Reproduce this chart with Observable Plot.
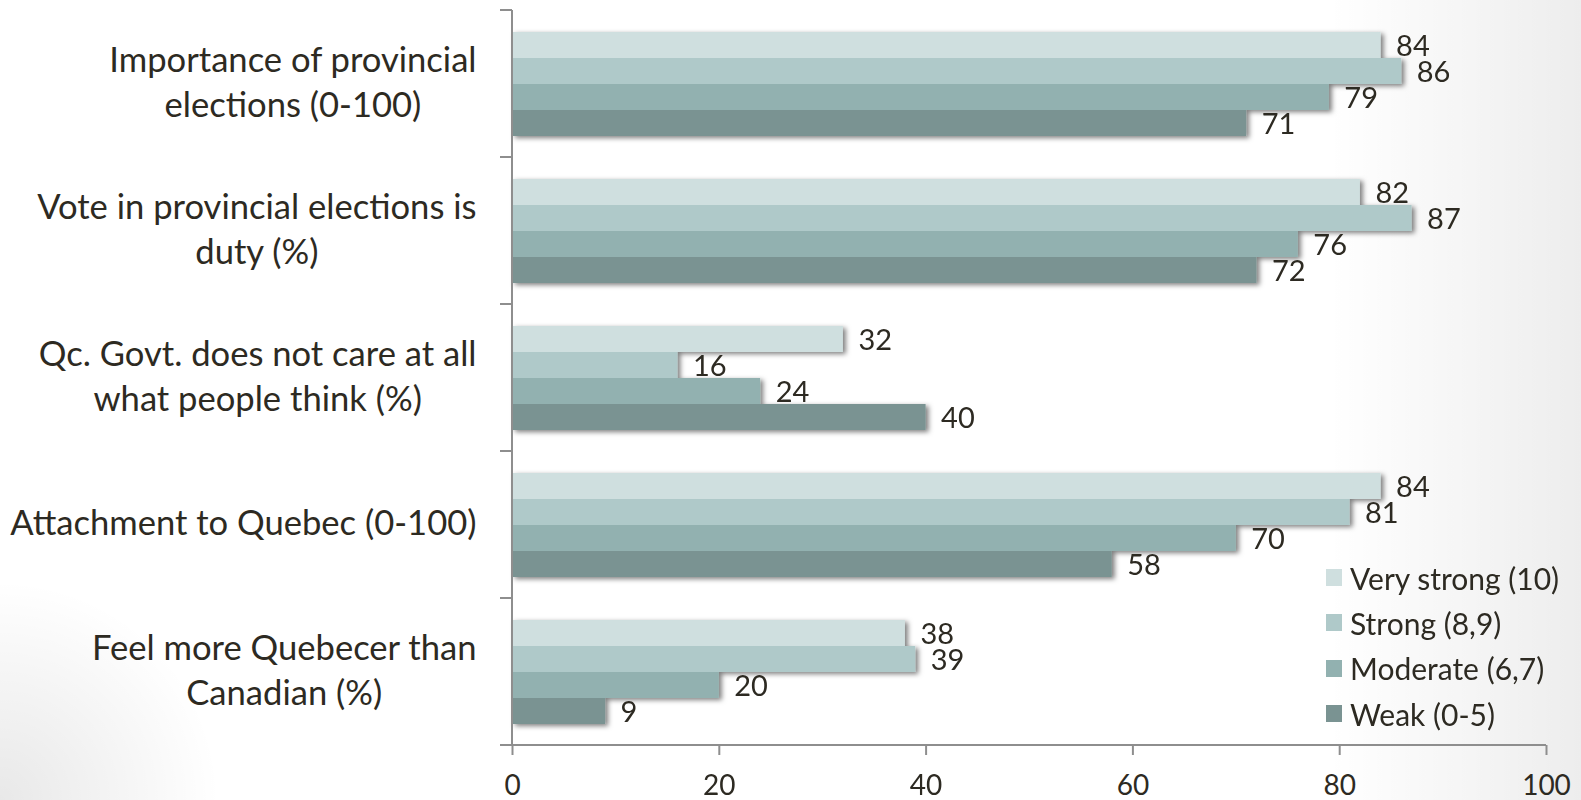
<!DOCTYPE html>
<html>
<head>
<meta charset="utf-8">
<script src="https://cdn.jsdelivr.net/npm/d3@7"></script>
<script src="https://cdn.jsdelivr.net/npm/@observablehq/plot@0.6"></script>
<style>
  html, body { margin: 0; padding: 0; }
  body {
    width: 1581px; height: 800px; overflow: hidden;
    background:
      radial-gradient(circle at 0% 100%, rgba(0,0,0,0.09) 0, rgba(0,0,0,0) 220px),
      linear-gradient(to right, rgba(0,0,0,0) 84%, rgba(0,0,0,0.07) 100%),
      #ffffff;
    font-family: Lato, "Open Sans", sans-serif;
    color: #2d2a22;
  }
  #chart { position: relative; width: 1581px; height: 800px; }
  #chart svg { position: absolute; left: 0; top: 0; overflow: visible; }
  #legend { position: absolute; left: 1326px; top: 555px; font-size: 30px; }
  #legend .row { display: flex; align-items: center; height: 45.3px; }
  #legend .sw { width: 16px; height: 17px; margin-right: 8px; flex: none; }
</style>
</head>
<body>
<div id="chart"></div>
<script>
// Survey items (one group of bars each)
const categories = [
  "Importance of provincial\nelections (0-100)",
  "Vote in provincial elections is\nduty (%)",
  "Qc. Govt. does not care at all\nwhat people think (%)",
  "Attachment to Quebec (0-100)",
  "Feel more Quebecer than\nCanadian (%)"
];

// Strength of partisan identification
const series = ["Very strong (10)", "Strong (8,9)", "Moderate (6,7)", "Weak (0-5)"];

const veryStrong = [84, 82, 32, 84, 38];
const strong     = [86, 87, 16, 81, 39];
const moderate   = [79, 76, 24, 70, 20];
const weak       = [71, 72, 40, 58, 9];

const xTicks = [0, 20, 40, 60, 80, 100];
const colors = ["#cfdfdf", "#afc9c9", "#92b1b0", "#7a9392"];

const seriesValues = [veryStrong, strong, moderate, weak];
const rows = categories.flatMap((category, i) =>
  series.map((s, j) => ({category, series: s, value: seriesValues[j][i]}))
);

const textColor = "#2d2a22";
const axisColor = "#8e8e8e";

const plot = Plot.plot({
  width: 1581,
  height: 800,
  marginLeft: 512,
  marginRight: 35,
  marginTop: 8,
  marginBottom: 54,
  style: {background: "transparent", fontFamily: "Lato, 'Open Sans', sans-serif", color: textColor, overflow: "visible"},
  x: {domain: [0, 100]},
  fy: {domain: categories, padding: 0, axis: null, label: null},
  y: {domain: series, paddingInner: 0, paddingOuter: 0.76, axis: null},
  color: {domain: series, range: colors},
  marks: [
    Plot.barX(rows, {fy: "category", y: "series", x: "value", fill: "series"}),
    Plot.text(rows, {
      fy: "category", y: "series", x: "value",
      text: d => String(d.value),
      textAnchor: "start", dx: 15, dy: 1,
      fontSize: 29, fill: textColor
    }),
    Plot.text(categories, {
      fy: d => d, text: d => d,
      frameAnchor: "left", dx: -36, dy: -4, textAnchor: "middle",
      fontSize: 34.6, lineHeight: 1.3, fill: textColor
    }),
    Plot.axisX({
      ticks: xTicks, tickSize: 10, tickPadding: 20,
      fontSize: 28, label: null, stroke: axisColor, strokeWidth: 2, fill: textColor
    })
  ]
});

const chart = document.getElementById("chart");
chart.appendChild(plot);

const svg = d3.select(plot);
const x = plot.scale("x");
const fy = plot.scale("fy");
const x0 = x.apply(0);
const x1 = x.apply(100);
const bw = fy.bandwidth;
const tops = categories.map(c => fy.apply(c));
const bottom = tops[tops.length - 1] + bw;

// Soft drop shadow under the bars
const defs = svg.insert("defs", ":first-child");
defs.append("filter")
  .attr("id", "barShadow")
  .attr("x", "-5%").attr("y", "-30%").attr("width", "110%").attr("height", "160%")
  .append("feDropShadow")
  .attr("dx", 3).attr("dy", 2).attr("stdDeviation", 2.5)
  .attr("flood-color", "#000").attr("flood-opacity", 0.5);
svg.selectAll('g[aria-label="bar"]').attr("filter", "url(#barShadow)");

// Category axis: vertical line, boundary ticks and the x-axis baseline
const axes = svg.append("g").attr("stroke", axisColor).attr("stroke-width", 2).attr("fill", "none");
axes.append("line").attr("x1", x0).attr("x2", x0).attr("y1", tops[0]).attr("y2", bottom);
tops.forEach(t => axes.append("line").attr("x1", x0 - 12).attr("x2", x0).attr("y1", t).attr("y2", t));
axes.append("line").attr("x1", x0 - 12).attr("x2", x1).attr("y1", bottom).attr("y2", bottom);

// Center each multi-line category label on its longest line, right edge 36px from the axis
const flat = categories.map(c => c.replace("\n", ""));
svg.selectAll("text").each(function () {
  if (!flat.includes(this.textContent)) return;
  const w = this.getBBox().width;
  const spans = this.querySelectorAll("tspan");
  if (spans.length) spans.forEach(s => s.setAttribute("x", -w / 2));
  else this.setAttribute("x", -w / 2);
});

// Legend
const legend = d3.select(chart).append("div").attr("id", "legend");
series.forEach((s, i) => {
  const row = legend.append("div").attr("class", "row");
  row.append("div").attr("class", "sw").style("background", colors[i]);
  row.append("span").text(s);
});
</script>
</body>
</html>
